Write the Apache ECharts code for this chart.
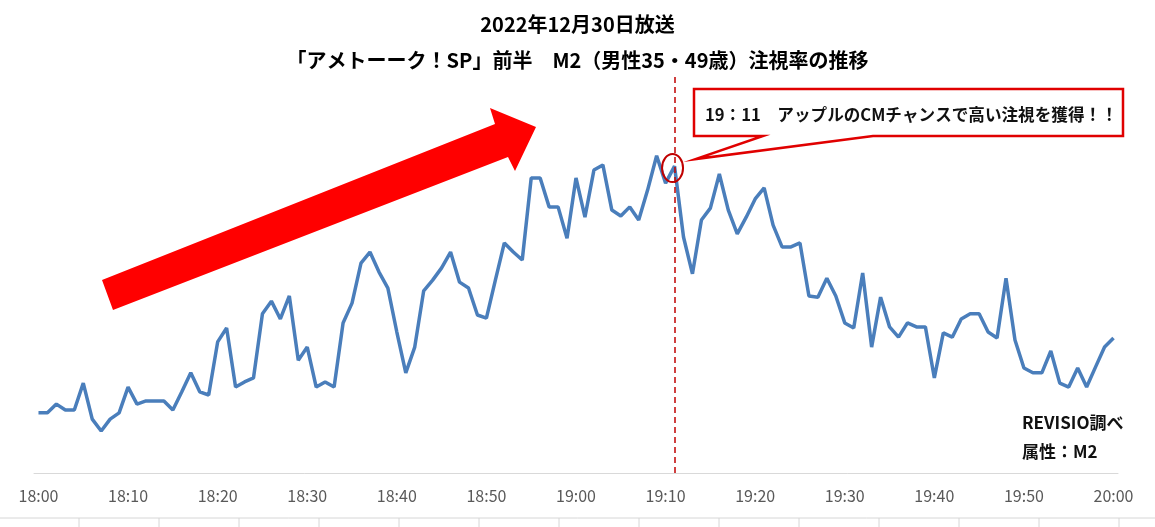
<!DOCTYPE html>
<html><head><meta charset="utf-8">
<script src="https://cdn.jsdelivr.net/npm/echarts@6/dist/echarts.min.js"></script>
<style>html,body{margin:0;padding:0;background:#fff}#c{width:1155px;height:527px}</style>
</head><body><div id="c"></div><script>
// Categories: every minute from 18:00 to 20:00
const minutes = [];
for (let h = 18; h <= 20; h++) {
  for (let m = 0; m < 60; m++) {
    if (h === 20 && m > 0) break;
    minutes.push(h + ':' + String(m).padStart(2, '0'));
  }
}
// M2 attention rate (relative scale)
const attention = [
  15.2,15.2,17.4,15.9,15.9,22.7,13.6,10.6,13.6,15.2,
  21.7,17.4,18.2,18.2,18.2,15.9,20.5,25.3,20.5,19.7,
  33.1,36.6,21.7,23.0,24.0,40.2,43.4,38.9,44.7,28.5,
  31.8,21.7,23.0,21.7,37.9,42.9,53.0,55.8,50.8,46.7,
  35.6,25.3,31.8,46.0,48.7,51.8,55.8,48.2,46.7,39.9,
  39.1,48.7,58.1,55.8,53.8,74.5,74.5,67.2,67.2,59.3,
  74.5,64.6,76.5,77.8,66.4,64.9,67.2,63.9,71.5,80.1,
  73.2,77.5,59.6,50.3,63.9,66.9,75.5,66.4,60.4,64.6,
  69.2,72.0,62.6,57.1,57.1,58.1,44.7,44.4,49.2,44.7,
  37.9,36.6,50.5,31.8,44.4,36.9,34.3,37.9,36.9,36.9,
  24.0,35.4,34.3,38.9,40.2,40.2,35.6,34.1,49.2,33.6,
  26.5,25.3,25.3,30.8,22.7,21.7,26.5,21.7,26.8,31.8,
  34.1
];
const highlightIndex = 71; // 19:11
const titleLines = ['2022年12月30日放送', '「アメトーーク！SP」前半　M2（男性35・49歳）注視率の推移'];
const calloutText = '19：11　アップルのCMチャンスで高い注視を獲得！！';
const sourceText = 'REVISIO調べ';
const attrText = '属性：M2';

const FONT = '"Noto Sans CJK JP", "Noto Sans", sans-serif';
const chart = echarts.init(document.getElementById('c'), null, {renderer: 'canvas'});

const bottomLines = [];
for (let k = 0; k < 14; k++) {
  bottomLines.push({type: 'line', silent: true, shape: {x1: 79 + 80 * k, y1: 518, x2: 79 + 80 * k, y2: 527}, style: {stroke: '#d6d6d6', lineWidth: 1}});
}
bottomLines.push({type: 'line', silent: true, shape: {x1: 0, y1: 518, x2: 1155, y2: 518}, style: {stroke: '#d6d6d6', lineWidth: 1}});

chart.setOption({
  animation: false,
  backgroundColor: '#ffffff',
  title: [
    {text: titleLines[0], left: 'center', top: 9, textStyle: {fontFamily: FONT, fontWeight: 'bold', fontSize: 20, color: '#000'}},
    {text: titleLines[1], left: 'center', top: 45, textStyle: {fontFamily: FONT, fontWeight: 'bold', fontSize: 20, color: '#000'}}
  ],
  grid: {left: 34, right: 37, top: 77, bottom: 54, containLabel: false},
  xAxis: {
    type: 'category', data: minutes, boundaryGap: true,
    axisLine: {lineStyle: {color: '#d9d9d9', width: 1}},
    axisTick: {show: false},
    axisLabel: {interval: 9, color: '#595959', fontSize: 16, fontFamily: FONT, margin: 15}
  },
  yAxis: {type: 'value', min: 0, max: 100, show: false, splitLine: {show: false}},
  series: [{
    type: 'line', data: attention, symbol: 'none',
    lineStyle: {color: '#4a7ebb', width: 3.5},
    markLine: {
      silent: true, symbol: 'none', label: {show: false},
      lineStyle: {color: '#c00000', type: [6, 4], width: 1.5},
      data: [{xAxis: highlightIndex}]
    }
  }]
});

const p = chart.convertToPixel({gridIndex: 0}, [highlightIndex, attention[highlightIndex]]);
chart.setOption({
  graphic: bottomLines.concat([
    {type: 'polygon', silent: true, z: 10,
     shape: {points: [[102,280],[495,124],[490,108],[536,127],[515,171],[508,157],[113,310]]},
     style: {fill: '#ff0000'}},
    {type: 'polygon', silent: true, z: 10,
     shape: {points: [[694,89],[1123,89],[1123,136],[873,136],[p[0] + 21, p[1] - 7],[763,136],[694,136]]},
     style: {fill: '#ffffff', stroke: '#e00000', lineWidth: 2.5}},
    {type: 'text', silent: true, z: 11, x: 705, y: 115,
     style: {text: calloutText, font: 'bold 16.6px ' + FONT, fill: '#111', textVerticalAlign: 'middle'}},
    {type: 'ellipse', silent: true, z: 11,
     shape: {cx: p[0] - 2, cy: p[1] + 2, rx: 10.5, ry: 14},
     style: {fill: 'none', stroke: '#c00000', lineWidth: 2}},
    {type: 'text', silent: true, z: 11, x: 1022, y: 423,
     style: {text: sourceText, font: 'bold 17px ' + FONT, fill: '#111', textVerticalAlign: 'middle'}},
    {type: 'text', silent: true, z: 11, x: 1022, y: 452,
     style: {text: attrText, font: 'bold 17px ' + FONT, fill: '#111', textVerticalAlign: 'middle'}}
  ])
});
</script></body></html>
